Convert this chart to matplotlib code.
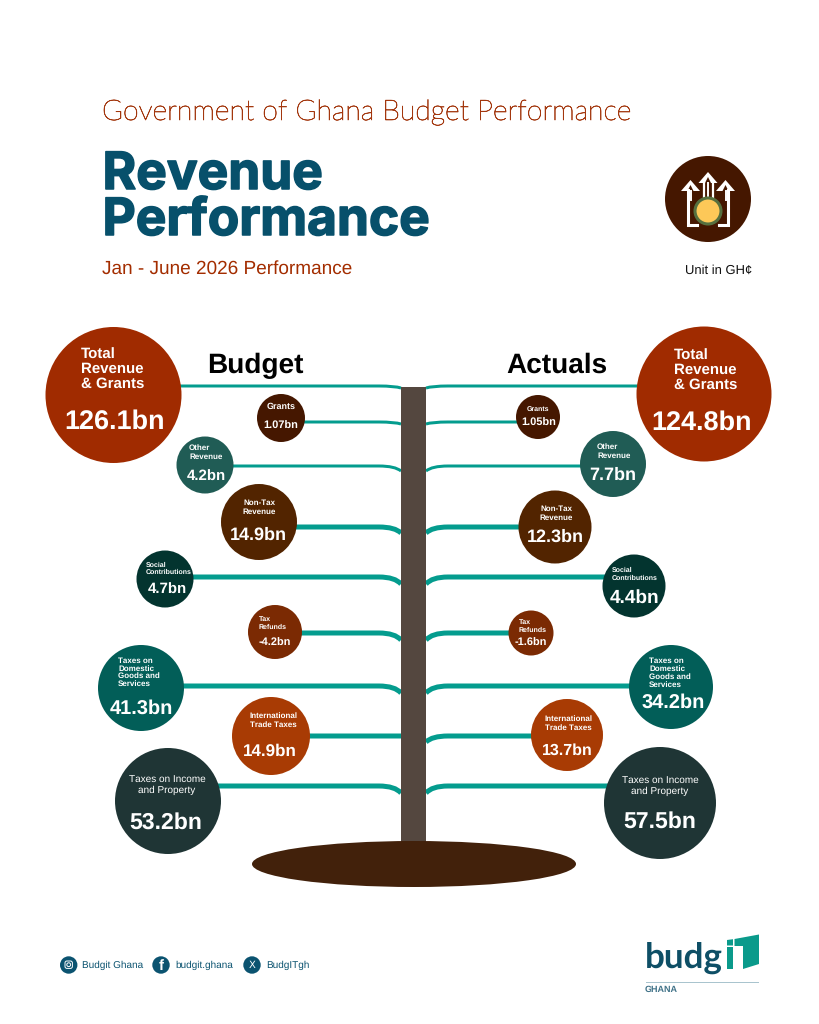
import matplotlib
matplotlib.use("Agg")
import matplotlib.pyplot as plt
import matplotlib.patheffects as pe
from matplotlib.patches import Circle, Ellipse, PathPatch, Rectangle, Polygon, FancyBboxPatch
from matplotlib.path import Path

plt.rcParams["text.hinting"] = "no_hinting"
plt.rcParams["text.hinting_factor"] = 1

# ---------- data ----------
categories = ["Total Revenue & Grants", "Grants", "Other Revenue", "Non-Tax Revenue",
              "Social Contributions", "Tax Refunds", "Taxes on Domestic Goods and Services",
              "International Trade Taxes", "Taxes on Income and Property"]
budget = ["126.1", "1.07", "4.2", "14.9", "4.7", "-4.2", "41.3", "14.9", "53.2"]
actuals = ["124.8", "1.05", "7.7", "12.3", "4.4", "-1.6", "34.2", "13.7", "57.5"]
label_lines = [["Total", "Revenue", "& Grants"], ["Grants"], ["Other", "Revenue"], ["Non-Tax", "Revenue"],
               ["Social", "Contributions"], ["Tax", "Refunds"],
               ["Taxes on", "Domestic", "Goods and", "Services"],
               ["International", "Trade Taxes"], ["Taxes on Income", "and Property"]]

# ---------- layout (pixels of the page) ----------
colors = ["#A02B00", "#451700", "#205C55", "#522400", "#03342F", "#7B2A03", "#025E58", "#A83B04", "#1F3535"]
branch_y = [386, 422, 466, 527, 577, 633, 686, 736, 786]
branch_w = [3, 3, 3, 5, 5, 5, 5, 5, 5]
drop = [2, 2, 5, 6, 7, 7, 7, 0, 7]
# cx, cy, r
L_c = [(113.5, 395, 68), (281, 418, 24), (205, 465, 28.5), (259, 522, 38), (165, 579, 28.5),
       (275, 632, 27), (141, 688, 43), (271, 736, 39), (168, 801, 53)]
R_c = [(704, 394, 67.5), (538, 417, 22), (613, 464, 33), (555, 527, 36.5), (634, 586, 31.5),
       (531, 633, 22.5), (671, 687, 42), (567, 735, 36), (660, 803, 56)]
# label x, ha, first-line y, line step, size
L_t = [(81, "left", 355, 14.3, 10.6), (281, "center", 407, 0, 6.3), (189, "left", 448, 8.8, 6.0),
       (259, "center", 503, 8.7, 6.0), (146, "left", 565, 7.2, 4.8), (259, "left", 619, 7.8, 5.2),
       (118, "left", 661, 7.6, 5.6), (273, "center", 716, 8.4, 5.9), (167, "center", 779, 11, 7.3)]
R_t = [(674, "left", 356, 14.3, 10.6), (538, "center", 409, 0, 5.4), (597, "left", 447, 8.8, 6.0),
       (556, "center", 509, 8.7, 6.0), (612, "left", 570, 8.3, 5.4), (519, "left", 622, 7.8, 5.2),
       (649, "left", 661, 7.8, 5.6), (568, "center", 719, 8.7, 5.9), (660, "center", 780, 11, 7.3)]
# value x, y, size
L_v = [(114.5, 419, 19.7), (281, 425.5, 7.6), (206, 476, 10.5), (258, 533, 13), (167, 589, 11),
       (275, 642, 7.8), (141, 707, 14.4), (270, 750, 12.2), (166, 821, 16.6)]
R_v = [(702, 420, 19.7), (539, 422, 8.1), (613, 473, 13), (555, 535, 13), (635, 596, 13.4),
       (531, 642, 7.6), (673, 701, 14.4), (567, 749, 11.7), (660, 820, 16.6)]

SANS = "Liberation Sans"
TEAL = "#049C8E"
NAVY = "#0B5370"

fig = plt.figure(figsize=(8.19, 10.24), dpi=100, facecolor="white")
ax = fig.add_axes([0, 0, 1, 1])
ax.set_xlim(0, 819)
ax.set_ylim(1024, 0)
ax.axis("off")

# ---------- header ----------
ax.text(102, 120, "Government of Ghana Budget Performance", family="Lato", weight="light",
        fontsize=20.45, color="#A3370E", va="baseline",
        path_effects=[pe.withStroke(linewidth=0.45, foreground="#A3370E")])
heavy = [pe.withStroke(linewidth=1.1, foreground="#07506B")]
ax.text(102.5, 189, "Revenue", family="Inter", weight="bold", fontsize=37, color="#07506B",
        va="baseline", path_effects=heavy)
ax.text(102.5, 235, "Performance", family="Inter", weight="bold", fontsize=37, color="#07506B",
        va="baseline", path_effects=heavy)
ax.text(102, 274, "Jan - June 2026 Performance", family=SANS, fontsize=13.75, color="#A32D00", va="baseline")
ax.text(718.5, 270, "Unit in GH¢", family=SANS, fontsize=9.3, color="#111111", ha="center", va="center")
ax.text(255.5, 373, "Budget", family=SANS, weight="bold", fontsize=20.2, color="black", ha="center", va="baseline")
ax.text(557, 373, "Actuals", family=SANS, weight="bold", fontsize=20.2, color="black", ha="center", va="baseline")

# ---------- icon ----------
ax.add_patch(Circle((708, 199), 43, fc="#451700", ec="none"))
def arrow(tip_x, tip_y, half, stem_bottom):
    ax.add_patch(Polygon([(tip_x, tip_y), (tip_x - half, tip_y + 11), (tip_x + half, tip_y + 11)],
                         closed=True, fc="white", ec="none", zorder=3))
    ax.add_patch(Polygon([(tip_x, tip_y + 5), (tip_x - 3, tip_y + 11), (tip_x + 3, tip_y + 11)],
                         closed=True, fc="#451700", ec="none", zorder=3))
    ax.plot([tip_x, tip_x], [tip_y + 11, stem_bottom], color="white", lw=1.4, zorder=3)
arrow(708, 172, 9.5, 198)
arrow(690.5, 180, 9.5, 200)
arrow(725.5, 180, 9.5, 200)
ax.plot([688, 688, 697], [190, 225, 225], color="white", lw=2.2, zorder=3, solid_joinstyle="miter")
ax.plot([728, 728, 719], [190, 225, 225], color="white", lw=2.2, zorder=3, solid_joinstyle="miter")
ax.plot([703.5, 703.5], [183, 200], color="white", lw=1.6, zorder=3)
ax.plot([712.5, 712.5], [183, 200], color="white", lw=1.6, zorder=3)
ax.add_patch(Circle((708, 211), 13, fc="#FDC858", ec="#56703F", lw=2.2, zorder=4))

# ---------- tree ----------
TL, TR = 401, 426
def branch(x_end, y, w, d, side):
    edge = TL if side < 0 else TR
    x_mid = edge + side * 22
    p = Path([(x_end, y), (x_mid, y), (edge + side * 6, y), (edge, y + d)],
             [Path.MOVETO, Path.LINETO, Path.CURVE3, Path.CURVE3])
    ax.add_patch(PathPatch(p, fc="none", ec=TEAL, lw=w * 0.72, capstyle="butt", zorder=1))

for i in range(len(categories)):
    branch(L_c[i][0], branch_y[i], branch_w[i], drop[i], -1)
    branch(R_c[i][0], branch_y[i], branch_w[i], drop[i] if i != 7 else 6, 1)

ax.add_patch(Rectangle((TL, 386.5), TR - TL, 460, fc="#54473F", ec="none", zorder=2))
ax.add_patch(Ellipse((414, 864), 324, 46, fc="#42210B", ec="none", zorder=3))

def bubbles(circ, lab, val, values):
    for i, name in enumerate(label_lines):
        cx, cy, r = circ[i]
        ax.add_patch(Circle((cx, cy), r, fc=colors[i], ec="none", zorder=4))
        x, ha, y0, step, fs = lab[i]
        for j, line in enumerate(name):
            wt = "normal" if i == 8 else "bold"
            ax.text(x, y0 + j * step, line, family=SANS, weight=wt, fontsize=fs, color="white",
                    ha=ha, va="center", zorder=5)
        vx, vy, vs = val[i]
        ax.text(vx, vy + vs * 0.13, values[i] + "bn", family=SANS, weight="bold", fontsize=vs, color="white",
                ha="center", va="center", zorder=5)

bubbles(L_c, L_t, L_v, budget)
bubbles(R_c, R_t, R_v, actuals)

# ---------- footer ----------
handles = ["Budgit Ghana", "budgit.ghana", "BudgITgh"]
icon_x = [68.7, 161, 252]
text_x = [82, 175, 266]
for cx, tx, h in zip(icon_x, text_x, handles):
    ax.add_patch(Circle((cx, 965), 8.7, fc=NAVY, ec="none"))
    ax.text(tx, 965.5, h, family=SANS, fontsize=7.5, color=NAVY, va="center")
ax.add_patch(FancyBboxPatch((65, 961), 7.4, 7.4, boxstyle="round,pad=0,rounding_size=2",
                            fc="none", ec="white", lw=0.7))
ax.add_patch(Circle((68.7, 964.7), 1.9, fc="none", ec="white", lw=0.7))
ax.text(161.5, 966, "f", family=SANS, weight="bold", fontsize=11, color="white", ha="center", va="center")
ax.text(252, 965, "X", family="DejaVu Sans", fontsize=7, color="white", ha="center", va="center")

# logo
ax.text(645, 968, "budg", family="Lato", weight="bold", fontsize=25, color="#0E4F66", va="baseline")
ax.add_patch(Rectangle((646, 981.5), 113, 1.3, fc="#A9C4CE", ec="none"))
ax.text(645, 990, "GHANA", family=SANS, weight="bold", fontsize=6.8, color="#3F7187", va="center")
TEAL2 = "#0A9A8B"
ax.add_patch(Polygon([(727, 940), (733, 939.2), (733, 945.5), (727, 945.5)], closed=True, fc=TEAL2, ec="none"))
ax.add_patch(Polygon([(734.5, 939), (759, 934.5), (759, 946), (734.5, 946)], closed=True, fc=TEAL2, ec="none"))
ax.add_patch(Polygon([(743, 946), (759, 946), (759, 964), (743, 969)], closed=True, fc=TEAL2, ec="none"))
ax.add_patch(Rectangle((727, 947), 6, 22, fc=TEAL2, ec="none"))

fig.savefig("out.png", dpi=100, facecolor="white")
